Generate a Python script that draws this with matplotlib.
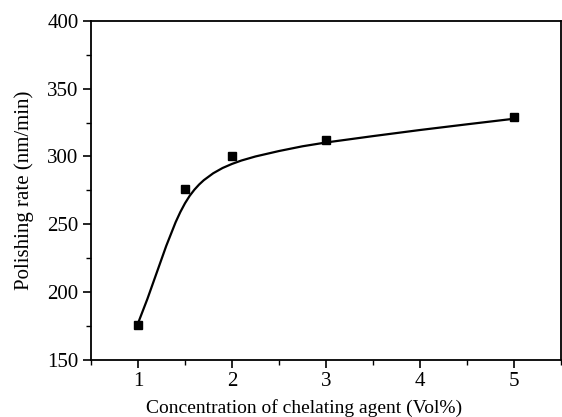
import numpy as np
import matplotlib
matplotlib.use('Agg')
import matplotlib.pyplot as plt
from matplotlib.ticker import MultipleLocator

plt.rcParams['font.family'] = ['Liberation Serif', 'DejaVu Serif']

# measured polishing rate vs chelating agent concentration
conc = [1.0, 1.5, 2.0, 3.0, 5.0]
rate = [176, 276, 300, 312, 329]

# fitted trend line
fit_x = [1.0, 1.1, 1.2, 1.3, 1.4, 1.45, 1.5, 1.55, 1.6, 1.65, 1.7, 1.8, 1.9,
         2.0, 2.1, 2.25, 2.5, 2.75, 3.0, 3.5, 4.0, 4.5, 5.0]
fit_y = [177, 195, 214.5, 234, 251.5, 259, 265.5, 271, 275.5, 279.3, 282.5, 287.6, 291.5,
         294.5, 297, 300, 304, 307.5, 310.3, 315, 319.5, 323.7, 327.8]

fig = plt.figure(figsize=(5.62, 4.17), dpi=100)
ax = fig.add_axes([0.162, 0.137, 0.836, 0.813])

ax.plot(fit_x, fit_y, '-', color='black', linewidth=1.6, solid_joinstyle='round')
ax.plot(conc, rate, 's', color='black', markersize=5.5)

ax.set_xlim(0.5, 5.5)
ax.set_ylim(150, 400)
ax.xaxis.set_major_locator(MultipleLocator(1))
ax.xaxis.set_minor_locator(MultipleLocator(0.5))
ax.yaxis.set_major_locator(MultipleLocator(50))
ax.yaxis.set_minor_locator(MultipleLocator(25))
ax.tick_params(which='major', direction='out', length=6, width=1.2, labelsize=15, pad=3)
ax.tick_params(which='minor', direction='out', length=3.5, width=1.0)
for s in ax.spines.values():
    s.set_linewidth(1.3)

ax.set_xlabel('Concentration of chelating agent (Vol%)', fontsize=14)
ax.set_ylabel('Polishing rate (nm/min)', fontsize=15)
ax.xaxis.set_label_coords(0.454, -0.115)
ax.yaxis.set_label_coords(-0.122, 0.5)

fig.savefig('out.png', dpi=100)
